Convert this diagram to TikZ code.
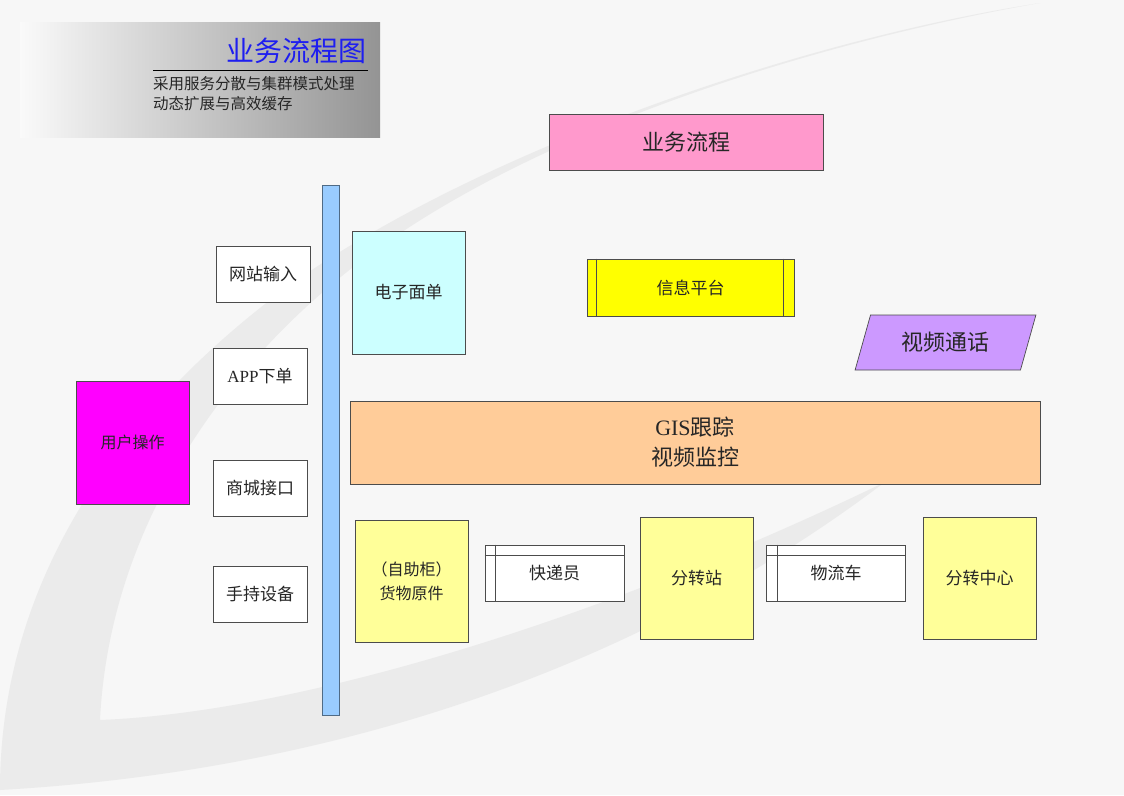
\documentclass[tikz,border=0pt]{standalone}
\usepackage{fontspec}
\setmainfont{Liberation Serif}
\newfontfamily\cjk{Noto Sans CJK SC}
\usetikzlibrary{shapes.geometric}
\definecolor{flowpink}{HTML}{FF99CC}
\definecolor{barblue}{HTML}{99CCFF}
\definecolor{barline}{HTML}{4F6B86}
\definecolor{usermag}{HTML}{FF00FF}
\definecolor{infoyellow}{HTML}{FFFF00}
\definecolor{sheetcyan}{HTML}{CCFFFF}
\definecolor{gisorange}{HTML}{FFCC99}
\definecolor{callviolet}{HTML}{CC99FF}
\definecolor{notes}{HTML}{FFFF99}
\definecolor{titleblue}{HTML}{1E1EF0}
\begin{document}
\begin{tikzpicture}[x=1pt, y=-1pt,
    box/.style={draw=black!70, line width=0.7pt, text=black!85, inner sep=0pt,
      font=\cjk\fontsize{17}{21}\selectfont},
    entry/.style={box, fill=white, minimum width=94pt, minimum height=56pt},
    lane/.style={box, fill=white, minimum width=139pt, minimum height=56pt},
    sticky/.style={box, fill=notes, minimum width=113pt, minimum height=122pt}]
    \useasboundingbox (0,0) rectangle (1124,795);
    % background swoosh
    \fill[black!3] (0,0) rectangle (1124,795);
    \fill[black!8] (0,790) .. controls (0,580) and (120,410) .. (290,285)
      .. controls (480,150) and (800,40) .. (1040,3)
      .. controls (800,45) and (500,140) .. (330,286)
      .. controls (230,370) and (110,520) .. (100,720)
      .. controls (300,712) and (600,620) .. (885,482)
      .. controls (650,660) and (350,770) .. (0,790) -- cycle;
    % title block
    \shade[left color=black!2, right color=black!42] (20,22) rectangle (380,137);
    \node[anchor=east, inner sep=0pt, text=titleblue, font=\cjk\fontsize{28}{30}\selectfont] (title) at (367,51) {业务流程图};
    \draw[line width=0.8pt] (153,70) -- (368,70);
    \node[anchor=north west, align=left, inner sep=0pt, text=black!85, font=\cjk\fontsize{15.5}{20}\selectfont] (subtitle) at (153,76) {采用服务分散与集群模式处理\\动态扩展与高效缓存};
    % boxes
    \node[box, fill=flowpink, minimum width=274pt, minimum height=56pt, font=\cjk\fontsize{22}{26}\selectfont] (flow) at (686,142) {业务流程};
    \node[box, draw=barline, fill=barblue, minimum width=17pt, minimum height=530pt] (bar) at (330.5,450) {};
    \node[box, fill=usermag, minimum width=113pt, minimum height=123pt, font=\cjk\fontsize{16}{20}\selectfont] (user) at (132.5,442.5) {用户操作};
    \node[entry] (web) at (263,274) {网站输入};
    \node[entry] (app) at (260,376.5) {{\rmfamily APP}下单};
    \node[entry] (mall) at (260,488) {商城接口};
    \node[entry] (hand) at (260,594) {手持设备};
    \node[box, fill=sheetcyan, minimum width=113pt, minimum height=123pt] (sheet) at (408.5,292.5) {电子面单};
    \node[box, fill=infoyellow, minimum width=207pt, minimum height=57pt] (info) at (690.5,287.5) {信息平台};
    \draw[black!70, line width=0.7pt] ([xshift=10pt]info.north west) -- ([xshift=10pt]info.south west)
      ([xshift=-11pt]info.north east) -- ([xshift=-11pt]info.south east);
    \node[box, fill=callviolet, trapezium, trapezium left angle=66, trapezium right angle=114,
      trapezium stretches=true, minimum width=181pt, minimum height=55pt,
      font=\cjk\fontsize{22}{26}\selectfont] (call) at (945.5,342.5) {视频通话};
    \node[box, fill=gisorange, minimum width=690pt, minimum height=83pt, align=center,
      font=\cjk\fontsize{22}{30}\selectfont] (gis) at (695,442.5) {{\rmfamily GIS}跟踪\\视频监控};
    \node[sticky, align=center, font=\cjk\fontsize{16}{24}\selectfont] (goods) at (411.5,581.5) {（自助柜）\\货物原件};
    \node[lane] (courier) at (554.5,573) {快递员};
    \draw[black!70, line width=0.7pt] ([yshift=-11pt]courier.north west) -- ([yshift=-11pt]courier.north east)
      ([xshift=11pt]courier.north west) -- ([xshift=11pt]courier.south west);
    \node[sticky] (station) at (696.5,578) {分转站};
    \node[lane] (truck) at (836,573) {物流车};
    \draw[black!70, line width=0.7pt] ([yshift=-11pt]truck.north west) -- ([yshift=-11pt]truck.north east)
      ([xshift=11pt]truck.north west) -- ([xshift=11pt]truck.south west);
    \node[sticky] (center) at (979.5,578) {分转中心};
\end{tikzpicture}
\end{document}
